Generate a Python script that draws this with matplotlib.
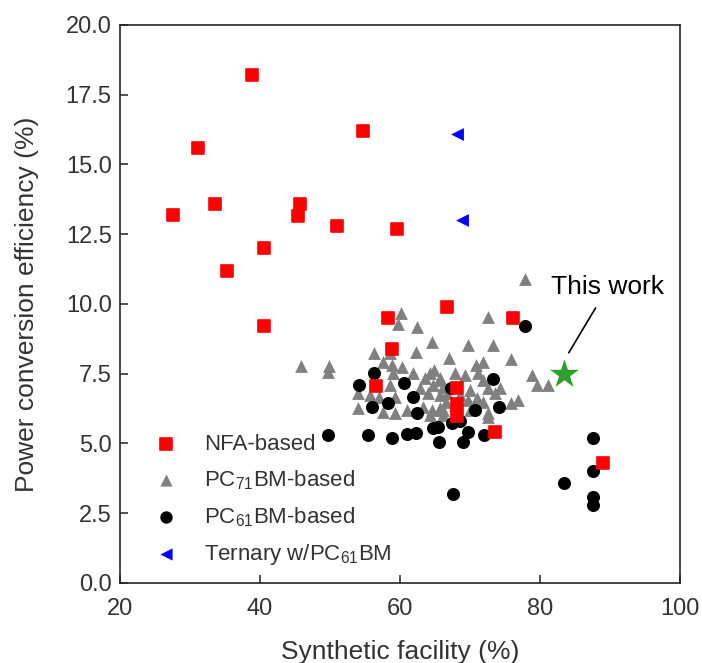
import matplotlib
matplotlib.use("Agg")
import matplotlib.pyplot as plt

plt.rcParams["font.family"] = ["Liberation Sans", "DejaVu Sans"]
plt.rcParams["mathtext.default"] = "regular"

# Synthetic facility (%) and power conversion efficiency (%) per device class
nfa_x = [38.9, 31.2, 27.6, 33.5, 35.3, 40.5, 40.5, 45.7, 45.4, 51.0, 54.7, 59.6,
         58.3, 58.9, 56.6, 66.7, 76.1, 68.2, 68.2, 68.2, 73.6, 89.0]
nfa_y = [18.2, 15.6, 13.2, 13.6, 11.2, 12.0, 9.2, 13.6, 13.15, 12.8, 16.2, 12.7,
         9.5, 8.4, 7.05, 9.9, 9.5, 7.0, 6.4, 6.0, 5.4, 4.3]

pc71_x = [45.9, 49.8, 49.7, 54.0, 54.0, 60.1, 59.7, 62.4, 64.6, 62.3,
          56.3, 58.6, 57.6, 58.9, 60.3, 59.0, 61.9, 64.3, 64.9, 63.6, 65.7,
          58.6, 62.9, 64.7, 66.2, 64.0, 65.7, 57.0, 59.3,
          57.6, 59.3, 61.0, 63.3, 64.6, 65.7, 64.3, 66.2, 55.7,
          72.6, 69.7, 73.3, 67.0, 75.9, 70.8, 71.8, 71.2, 67.9, 69.3,
          78.9, 79.6, 81.1, 65.7, 66.7, 71.9, 72.6, 74.3, 73.6, 71.0, 71.8,
          75.8, 76.8, 72.5, 72.6, 66.5, 66.2, 69.7, 77.8, 68.6, 70.0, 67.9, 70.0]
pc71_y = [7.78, 7.78, 7.56, 6.81, 6.27, 9.68, 9.28, 9.18, 8.64, 8.28,
          8.24, 8.24, 7.92, 7.81, 7.74, 7.53, 7.53, 7.53, 7.63, 7.35, 7.35,
          7.10, 6.99, 7.10, 7.03, 6.81, 6.74, 6.67, 6.67,
          6.13, 6.09, 6.20, 6.31, 6.20, 6.27, 6.02, 6.02, 6.74,
          9.53, 8.53, 8.53, 8.06, 8.03, 7.81, 7.92, 7.53, 7.53, 7.46,
          7.46, 7.10, 7.10, 7.28, 6.81, 7.28, 6.99, 6.99, 6.81, 6.63, 6.49,
          6.45, 6.56, 6.09, 5.95, 6.49, 6.20, 6.56, 10.90, 6.74, 6.92, 6.38, 6.20]

pc61_x = [77.8, 56.3, 54.1, 60.6, 73.3, 67.3, 61.9, 56.0, 58.3, 62.4, 70.7,
          74.2, 67.4, 68.6, 49.7, 55.4, 58.8, 61.0, 62.3, 64.7, 65.4, 65.6,
          69.0, 69.7, 72.0, 67.6, 87.5, 87.5, 83.4, 87.5, 87.5]
pc61_y = [9.2, 7.53, 7.10, 7.17, 7.31, 6.99, 6.67, 6.29, 6.45, 6.09, 6.20,
          6.31, 5.73, 5.81, 5.30, 5.30, 5.20, 5.34, 5.38, 5.56, 5.59, 5.05,
          5.05, 5.41, 5.30, 3.19, 5.20, 4.01, 3.58, 3.08, 2.80]

ternary_x = [68.1, 68.8]
ternary_y = [16.1, 13.0]

this_work_x = [83.4]
this_work_y = [7.5]

ytick_vals = [0, 2.5, 5, 7.5, 10, 12.5, 15, 17.5, 20]

fig = plt.figure(figsize=(7.02, 6.63), dpi=100)
ax = fig.add_axes([0.171, 0.1207, 0.7977, 0.8416])

ax.scatter(pc71_x, pc71_y, marker="^", s=85, color="#808080", linewidths=0,
           label="PC$_{71}$BM-based", zorder=2)
ax.scatter(pc61_x, pc61_y, marker="o", s=88, color="black", linewidths=0,
           label="PC$_{61}$BM-based", zorder=3)
ax.scatter(nfa_x, nfa_y, marker="s", s=85, color="#ff0000", edgecolors="#ff0000",
           linewidths=1.2, label="NFA-based", zorder=4)
ax.scatter(ternary_x, ternary_y, marker="<", s=85, color="#0000ff", linewidths=0,
           label="Ternary w/PC$_{61}$BM", zorder=5)
ax.scatter(this_work_x, this_work_y, marker="*", s=480, color="#2ca02c",
           linewidths=0, zorder=6)

ax.annotate("This work", xy=(84.1, 8.25), xytext=(89.7, 10.6),
            ha="center", va="center", fontsize=19, color="black",
            arrowprops=dict(arrowstyle="-", color="black", lw=1.2,
                            shrinkA=5, shrinkB=0))

ax.set_xlim(20, 100)
ax.set_ylim(0, 20)
ax.set_xticks([20, 40, 60, 80, 100])
ax.set_yticks(ytick_vals)
ax.set_yticklabels([f"{v:.1f}" for v in ytick_vals])
ax.tick_params(direction="in", length=6, width=1.2, labelsize=17,
               colors="#333333", pad=6)
ax.tick_params(axis="x", pad=11)
for sp in ax.spines.values():
    sp.set_linewidth(1.2)
    sp.set_color("#262626")

ax.set_xlabel("Synthetic facility (%)", fontsize=19, color="#333333", labelpad=14)
ax.set_ylabel("Power conversion efficiency (%)", fontsize=19, color="#333333",
              labelpad=19)

handles, labels = ax.get_legend_handles_labels()
order = [labels.index("NFA-based"), labels.index("PC$_{71}$BM-based"),
         labels.index("PC$_{61}$BM-based"), labels.index("Ternary w/PC$_{61}$BM")]
ax.legend([handles[i] for i in order], [labels[i] for i in order],
          loc="lower left", bbox_to_anchor=(0.013, 0.0), frameon=False,
          fontsize=16, labelcolor="#333333", handletextpad=0.75,
          labelspacing=0.6, borderaxespad=0.32, markerscale=0.95)

fig.savefig("out.png", dpi=100)
